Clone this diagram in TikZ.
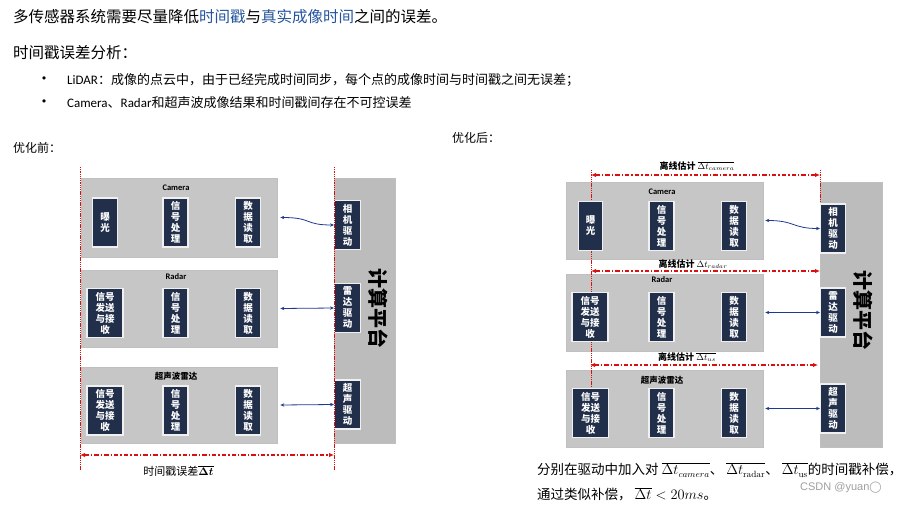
\documentclass[tikz,border=0pt]{standalone}
\usepackage[no-math]{fontspec}
\usepackage{bm}
\setmainfont{Noto Sans CJK SC}
\newfontfamily\lat{Carlito}
\newfontfamily\wmfont{Liberation Sans}
\newfontfamily\djv{DejaVu Sans}
\usetikzlibrary{arrows.meta,shadows,fit}
\definecolor{navy}{RGB}{33,47,74}
\definecolor{hl}{RGB}{38,84,156}
\definecolor{arrblue}{RGB}{30,58,140}
\definecolor{dimred}{RGB}{220,15,15}
\definecolor{boxgray}{RGB}{198,198,198}
\tikzset{
  txt/.style={anchor=west, inner sep=0pt},
  graybox/.style={fill=boxgray, draw=black!25, line width=0.7pt, inner sep=0pt,
    drop shadow={shadow xshift=1.3pt, shadow yshift=-1.3pt, opacity=0.35, fill=black!70}},
  platbox/.style={graybox, fill=boxgray!95!black},
  ibox/.style={fill=navy, draw=white!88!gray, line width=1.3pt, text=white, inner sep=0pt,
    align=center, minimum height=49pt, font=\fontsize{9.5}{11}\selectfont\bfseries},
  nbox/.style={ibox, minimum width=25pt},
  wbox/.style={ibox, minimum width=36pt},
  boxlabel/.style={inner sep=0pt, font=\fontsize{8.5}{10}\selectfont\bfseries},
  redv/.style={draw=dimred, line width=0.8pt, dash pattern=on 1.3pt off 0.9pt},
  reddim/.style={draw=dimred, line width=1.25pt, dash pattern=on 4.5pt off 2pt on 1.3pt off 2pt,
    {Latex[length=5pt,width=4.5pt]}-{Latex[length=5pt,width=4.5pt]}},
  blarrow/.style={draw=arrblue, line width=0.8pt,
    {Stealth[length=4pt,width=3.4pt]}-{Stealth[length=4pt,width=3.4pt]}},
  dimlabel/.style={inner sep=0pt, font=\fontsize{9}{11}\selectfont\bfseries},
}
\begin{document}
\begin{tikzpicture}[x=1pt,y=-1pt]
\useasboundingbox (0,0) rectangle (901,505);

% ---------- top texts ----------
\node[txt, font=\fontsize{15.5}{18}\selectfont] (t1) at (13,17)
  {多传感器系统需要尽量降低\textcolor{hl}{时间戳}与\textcolor{hl}{真实成像时间}之间的误差。};
\node[txt, font=\fontsize{15.5}{18}\selectfont] (t2) at (13,53) {时间戳误差分析：};
\node[inner sep=0pt, font=\fontsize{11}{13}\djv] (b1) at (44,80) {•};
\node[txt, font=\fontsize{13}{15}\selectfont] (l1) at (67,80)
  {{\lat LiDAR}：成像的点云中，由于已经完成时间同步，每个点的成像时间与时间戳之间无误差；};
\node[inner sep=0pt, font=\fontsize{11}{13}\djv] (b2) at (44,103) {•};
\node[txt, font=\fontsize{13}{15}\selectfont] (l2) at (67,103)
  {{\lat Camera}、{\lat Radar}和超声波成像结果和时间戳间存在不可控误差};
\node[txt, font=\fontsize{12}{14}\selectfont] (pre) at (13,148) {优化前：};
\node[txt, font=\fontsize{12}{14}\selectfont] (post) at (452,138) {优化后：};

% ================= LEFT (before) =================
\node[graybox, fit={(81,178)(277,257)}] (camL) {};
\node[graybox, fit={(81,270)(277,347)}] (radL) {};
\node[graybox, fit={(81,367)(277,443)}] (usL) {};
\node[platbox, fit={(334,178)(395,443)}] (platL) {};

\node[boxlabel] (camLl) at (176,188) {\lat Camera};
\node[boxlabel] (radLl) at (176,277) {\lat Radar};
\node[boxlabel] (usLl) at (176,376) {超声波雷达};

\node[nbox] (c1L) at (105,222.5) {曝\\光};
\node[nbox] (c2L) at (175.5,222.5) {信\\号\\处\\理};
\node[nbox] (c3L) at (248,222.5) {数\\据\\读\\取};
\node[wbox] (r1L) at (105,313) {信号\\发送\\与接\\收};
\node[nbox] (r2L) at (175.5,313) {信\\号\\处\\理};
\node[nbox] (r3L) at (248,313) {数\\据\\读\\取};
\node[wbox] (u1L) at (105,410.5) {信号\\发送\\与接\\收};
\node[nbox] (u2L) at (175.5,410.5) {信\\号\\处\\理};
\node[nbox] (u3L) at (248,410.5) {数\\据\\读\\取};

\node[nbox, minimum width=26pt, anchor=west] (d1L) at (334,225) {相\\机\\驱\\动};
\node[nbox, minimum width=26pt, anchor=west] (d2L) at (334,308) {雷\\达\\驱\\动};
\node[nbox, minimum width=26pt, anchor=west] (d3L) at (334,404.5) {超\\声\\驱\\动};

\node[rotate=-90, inner sep=0pt, font=\fontsize{20}{20}\selectfont\bfseries] (cpL) at (378,308) {计算平台};

\draw[blarrow] ([xshift=3pt]camL.east) .. controls +(32,0) and +(-30,0) .. (d1L.west);
\draw[blarrow] ([xshift=3pt]radL.east) -- (d2L.west);
\draw[blarrow] ([xshift=3pt]usL.east) -- (d3L.west);

\coordinate (vL1a) at (80,167); \coordinate (vL1b) at (80,470);
\coordinate (vL2a) at (334,167); \coordinate (vL2b) at (334,470);
\draw[redv] (vL1a) -- (vL1b);
\draw[redv] (vL2a) -- (vL2b);
\coordinate (dLa) at (80,455); \coordinate (dLb) at (334,455);
\draw[reddim] (dLa) -- (dLb);
\node[inner sep=0pt, font=\fontsize{11}{13}\selectfont] (lblL) at (178.5,471) {时间戳误差$\overline{\bm{\Delta t}}$};

% ================= RIGHT (after) =================
\node[graybox, fit={(566,182)(763,259)}] (camR) {};
\node[graybox, fit={(566,274)(763,351)}] (radR) {};
\node[graybox, fit={(566,370)(763,447)}] (usR) {};
\node[platbox, fit={(820,182)(882,447)}] (platR) {};

\coordinate (vR1a) at (591,170); \coordinate (vR1b) at (591,420);
\draw[redv] (vR1a) -- (vR1b);
\coordinate (vR2a) at (820,170); \coordinate (vR2b) at (820,204);
\draw[redv] (vR2a) -- (vR2b);

\node[boxlabel] (camRl) at (662,192) {\lat Camera};
\node[boxlabel] (radRl) at (662,280) {\lat Radar};
\node[boxlabel] (usRl) at (662,380) {超声波雷达};

\node[nbox, minimum width=24pt] (c1R) at (590.5,226) {曝\\光};
\node[nbox] (c2R) at (661.5,226) {信\\号\\处\\理};
\node[nbox] (c3R) at (734,226) {数\\据\\读\\取};
\node[wbox] (r1R) at (590,317) {信号\\发送\\与接\\收};
\node[nbox] (r2R) at (661.5,317) {信\\号\\处\\理};
\node[nbox] (r3R) at (734,317) {数\\据\\读\\取};
\node[wbox] (u1R) at (590.5,413) {信号\\发送\\与接\\收};
\node[nbox] (u2R) at (661.5,413) {信\\号\\处\\理};
\node[nbox] (u3R) at (734,413) {数\\据\\读\\取};

\node[nbox, anchor=west] (d1R) at (820,228.5) {相\\机\\驱\\动};
\node[nbox, anchor=west] (d2R) at (820,312.5) {雷\\达\\驱\\动};
\node[nbox, anchor=west] (d3R) at (820,408.5) {超\\声\\驱\\动};

\node[rotate=-90, inner sep=0pt, font=\fontsize{20}{20}\selectfont\bfseries] (cpR) at (863,310) {计算平台};

\draw[blarrow] ([xshift=2pt]camR.east) .. controls +(30,0) and +(-28,0) .. (d1R.west);
\draw[blarrow] ([xshift=2pt]radR.east) -- (d2R.west);
\draw[blarrow] ([xshift=2pt]usR.east) -- (d3R.west);

\coordinate (dR1a) at (591,175); \coordinate (dR1b) at (820,175);
\coordinate (dR2a) at (591,271); \coordinate (dR2b) at (820,271);
\coordinate (dR3a) at (590,365); \coordinate (dR3b) at (818,365);
\draw[reddim] (dR1a) -- (dR1b);
\draw[reddim] (dR2a) -- (dR2b);
\draw[reddim] (dR3a) -- (dR3b);
\node[dimlabel] (lR1) at (697,166) {离线估计 $\overline{\Delta t_{camera}}$};
\node[dimlabel] (lR2) at (693,264) {离线估计 $\Delta t_{radar}$};
\node[dimlabel] (lR3) at (687,357) {离线估计 $\overline{\Delta t_{us}}$};

% ---------- bottom texts ----------
\node[txt, font=\fontsize{13.5}{16}\selectfont] (bt1) at (537,470)
  {分别在驱动中加入对 $\overline{\Delta t_{camera}}$、 $\overline{\Delta t_{\mathrm{radar}}}$、 $\overline{\Delta t_{\mathrm{us}}}$的时间戳补偿，};
\node[txt, font=\fontsize{13.5}{16}\selectfont] (bt2) at (537,494)
  {通过类似补偿， $\overline{\Delta t} < 20ms$。};
\node[txt, font=\fontsize{11}{13}\wmfont, text=black!38] (wm) at (800,488) {CSDN @yuan{\djv ◯}};
\end{tikzpicture}
\end{document}
